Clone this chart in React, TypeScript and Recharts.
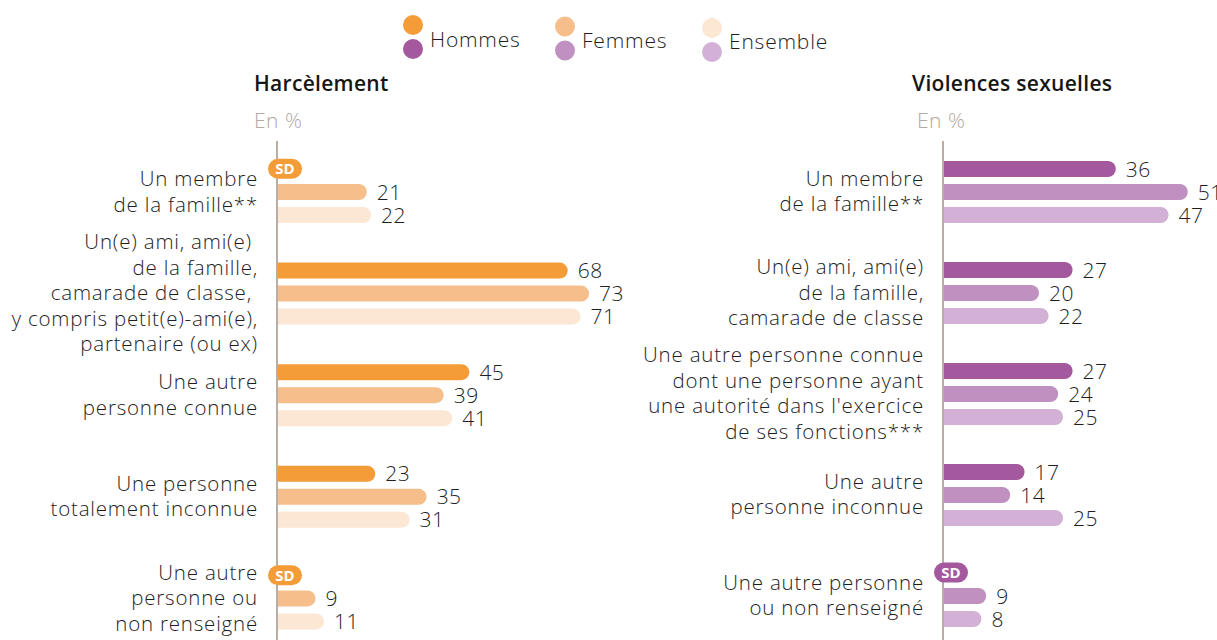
import React from 'react';
import { BarChart, Bar, XAxis, YAxis, LabelList } from 'recharts';

const FONT = '"Open Sans", "Noto Sans", sans-serif';
const TEXT = '#1e1e1e';
const AXIS = '#b8aea5';

const seriesNames = ['Hommes', 'Femmes', 'Ensemble'];
const orangeColors = ['#F49C38', '#F5BE8B', '#FCE6D4'];
const purpleColors = ['#A4589E', '#C090C1', '#D3B0D6'];

const harcCategories = [
  'Un membre\nde la famille**',
  'Un(e) ami, ami(e) \nde la famille,\ncamarade de classe, \ny compris petit(e)-ami(e),\npartenaire (ou ex)',
  'Une autre\npersonne connue',
  'Une personne\ntotalement inconnue',
  'Une autre\npersonne ou\nnon renseigné',
];
const harcHommes = [null, 68, 45, 23, null];
const harcFemmes = [21, 73, 39, 35, 9];
const harcEnsemble = [22, 71, 41, 31, 11];

const violCategories = [
  'Un membre\nde la famille**',
  'Un(e) ami, ami(e)\nde la famille,\ncamarade de classe',
  "Une autre personne connue\ndont une personne ayant\nune autorité dans l'exercice\nde ses fonctions***",
  'Une autre\npersonne inconnue',
  'Une autre personne\nou non renseigné',
];
const violHommes = [36, 27, 27, 17, null];
const violFemmes = [51, 20, 24, 14, 9];
const violEnsemble = [47, 22, 25, 25, 8];

type Val = number | null;

const BAR = 16;
const GAP = 7;
const LS = 0.8;

const buildRows = (cats: string[], h: Val[], f: Val[], e: Val[]) =>
  cats.map((cat, i) => ({
    cat,
    h: h[i] ?? 0,
    f: f[i] ?? 0,
    e: e[i] ?? 0,
    hSD: h[i] == null,
  }));

// category label + "SD" (sans données) badge for the missing Hommes bar
const makeTick = (rows: any[], sdColor: string) => (props: any) => {
  const { x, y, payload } = props;
  const lines = String(payload.value).split('\n');
  const lh = 25.5;
  const y0 = y - ((lines.length - 1) / 2) * lh + 7;
  const row = rows.find((r) => r.cat === payload.value);
  const sy = y - (BAR + GAP);
  return (
    <g>
      <text
        x={x}
        y={y0}
        textAnchor="end"
        fontSize={20.5}
        fontWeight={300}
        fill={TEXT}
        fontFamily={FONT}
        style={{ whiteSpace: 'pre', letterSpacing: LS }}
      >
        {lines.map((l, i) => (
          <tspan key={i} x={x} dy={i === 0 ? 0 : lh}>
            {l}
          </tspan>
        ))}
      </text>
      {row && row.hSD && (
        <g>
          <rect x={x + 10} y={sy - 10} width={34} height={20} rx={10} fill={sdColor} />
          <text x={x + 27} y={sy + 5.5} textAnchor="middle" fontSize={15} fontWeight={700} fill="#fff" fontFamily={FONT}>
            SD
          </text>
        </g>
      )}
    </g>
  );
};

const ValueLabel = (props: any) => {
  const vb = props.viewBox || {};
  const x = props.x ?? vb.x;
  const y = props.y ?? vb.y;
  const width = props.width ?? vb.width ?? 0;
  const height = props.height ?? vb.height ?? BAR;
  if (!props.value) return null;
  return (
    <text
      x={x + width + 10}
      y={y + height / 2 + 7.5}
      fontSize={21}
      fontWeight={300}
      fill={TEXT}
      fontFamily={FONT}
      style={{ letterSpacing: 0.5 }}
    >
      {props.value}
    </text>
  );
};

interface PanelProps {
  title: string;
  titleX: number;
  unitX: number;
  left: number;
  width: number;
  yWidth: number;
  domainMax: number;
  height: number;
  categories: string[];
  hommes: Val[];
  femmes: Val[];
  ensemble: Val[];
  colors: string[];
}

const Panel: React.FC<PanelProps> = (p) => {
  const rows = buildRows(p.categories, p.hommes, p.femmes, p.ensemble);
  const keys = ['h', 'f', 'e'];
  const Tick = makeTick(rows, p.colors[0]);
  return (
    <>
      <div
        style={{
          position: 'absolute',
          left: p.titleX,
          top: 69,
          fontSize: 21,
          fontWeight: 600,
          color: '#161616',
          fontFamily: FONT,
          letterSpacing: 0.3,
        }}
      >
        {p.title}
      </div>
      <div
        style={{
          position: 'absolute',
          left: p.unitX,
          top: 106,
          fontSize: 21,
          fontWeight: 300,
          color: '#b3a9a0',
          fontFamily: FONT,
          letterSpacing: 0.5,
        }}
      >
        En %
      </div>
      <div style={{ position: 'absolute', left: p.left, top: 141 }}>
        <BarChart
          width={p.width + 40}
          height={p.height}
          layout="vertical"
          data={rows}
          margin={{ top: 0, right: 40, bottom: 0, left: 0 }}
          barSize={BAR}
          barGap={GAP}
        >
          <XAxis type="number" domain={[0, p.domainMax]} hide />
          <YAxis
            type="category"
            dataKey="cat"
            width={p.yWidth}
            tickLine={false}
            tickSize={0}
            tickMargin={19}
            interval={0}
            axisLine={{ stroke: AXIS, strokeWidth: 2 }}
            tick={<Tick />}
          />
          {keys.map((k, i) => (
            <Bar
              key={k}
              dataKey={k}
              name={seriesNames[i]}
              fill={p.colors[i]}
              radius={[0, 8, 8, 0]}
              isAnimationActive={false}
            >
              <LabelList dataKey={k} content={<ValueLabel />} />
            </Bar>
          ))}
        </BarChart>
      </div>
    </>
  );
};

const legendX = [413, 565, 712];

const Legend = () => (
  <svg style={{ position: 'absolute', left: 0, top: 0 }} width={1217} height={70}>
    {seriesNames.map((name, i) => (
      <g key={name}>
        <circle cx={legendX[i]} cy={25 + i * 1.5} r={10} fill={orangeColors[i]} />
        <circle cx={legendX[i]} cy={49 + i * 1.5} r={10} fill={purpleColors[i]} />
        <text
          x={legendX[i] + 17}
          y={47 + i * 1}
          fontSize={21}
          fontWeight={300}
          fill={TEXT}
          fontFamily={FONT}
          style={{ letterSpacing: LS }}
        >
          {name}
        </text>
      </g>
    ))}
  </svg>
);

export default function App() {
  return (
    <div
      style={{
        position: 'absolute',
        left: 0,
        top: 0,
        width: 1217,
        height: 640,
        overflow: 'hidden',
        background: '#fff',
        fontFamily: FONT,
      }}
    >
      <Legend />
      <Panel
        title="Harcèlement"
        titleX={254}
        unitX={254}
        left={0}
        width={619}
        yWidth={277}
        domainMax={80}
        height={508}
        categories={harcCategories}
        hommes={harcHommes}
        femmes={harcFemmes}
        ensemble={harcEnsemble}
        colors={orangeColors}
      />
      <Panel
        title="Violences sexuelles"
        titleX={912}
        unitX={917}
        left={620}
        width={587}
        yWidth={323}
        domainMax={55}
        height={505}
        categories={violCategories}
        hommes={violHommes}
        femmes={violFemmes}
        ensemble={violEnsemble}
        colors={purpleColors}
      />
    </div>
  );
}
